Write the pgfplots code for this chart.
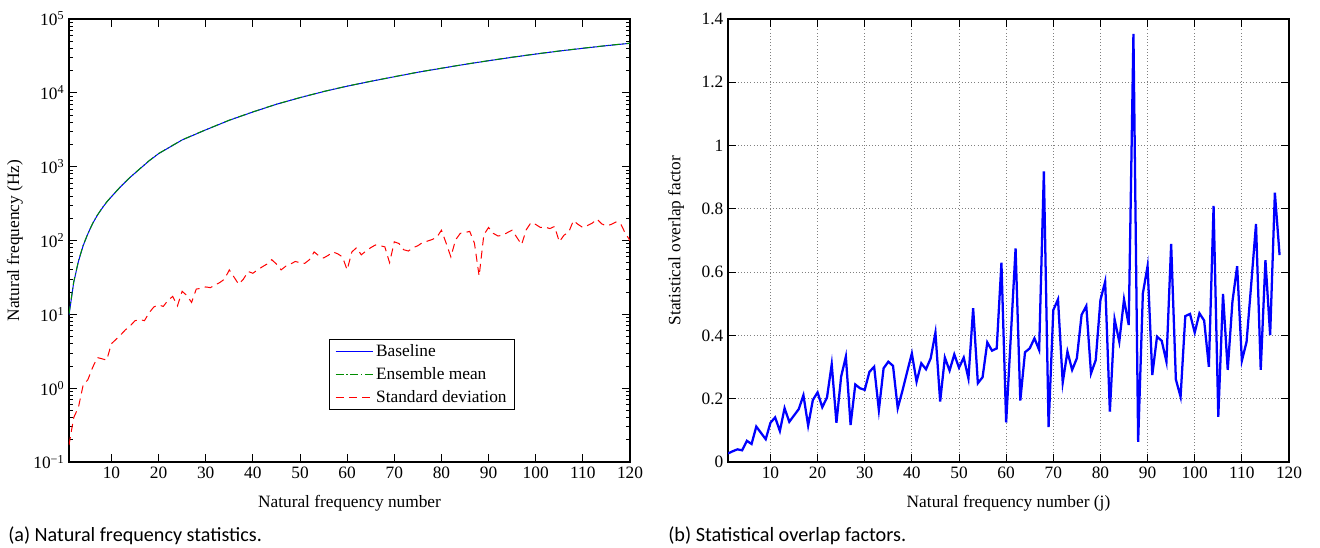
\documentclass[border=0pt]{standalone}
\usepackage{fontspec}
\setmainfont{Liberation Serif}
\newfontfamily\capfont{Carlito}
\usepackage{pgfplots}
\pgfplotsset{compat=1.18}

\begin{document}
\begin{tikzpicture}[x=1pt,y=1pt]
\useasboundingbox (-51.75,-63.75) rectangle (938.25,346.5);
\pgfplotsset{every axis/.append style={
  scale only axis, width=420.75pt, height=332.25pt,
  font=\fontsize{13}{15}\selectfont,
  /pgf/number format/assume math mode=true,
  axis line style={line width=0.8pt},
  every tick/.style={black, line width=0.6pt},
  major tick length=6pt, minor tick length=3pt,
  xmin=1, xmax=120, xtick={10,20,30,40,50,60,70,80,90,100,110,120},
  xlabel style={at={(axis description cs:0.5,-0.0926)}, anchor=center},
}}
% ---------------- left panel ----------------
\begin{axis}[at={(0pt,0pt)}, anchor=south west,
  ymode=log, ymin=0.1, ymax=1e5,
  ytick={0.1,1,10,100,1000,10000,100000},
  yticklabels={10\textsuperscript{−1},10\textsuperscript{0},10\textsuperscript{1},10\textsuperscript{2},10\textsuperscript{3},10\textsuperscript{4},10\textsuperscript{5}},
  minor ytick={0.2,0.3,0.4,0.5,0.6,0.7,0.8,0.9,2,3,4,5,6,7,8,9,20,30,40,50,60,70,80,90,200,300,400,500,600,700,800,900,2000,3000,4000,5000,6000,7000,8000,9000,20000,30000,40000,50000,60000,70000,80000,90000},
  xlabel={Natural frequency number},
  ylabel={Natural frequency (Hz)},
  ylabel style={at={(axis description cs:-0.0963,0.5)}, anchor=center},
  legend style={at={(0.795,0.117)}, anchor=south east, line width=0.6pt,
    fill=white, font=\fontsize{13}{15}\selectfont, inner xsep=4pt, inner ysep=2pt,
    row sep=2.6pt, cells={anchor=west}},
]
\addlegendimage{legend image code/.code={\draw[draw=blue, line width=0.8pt] (0pt,0pt) -- (28pt,0pt);}}
\addlegendentry{Baseline}
\addlegendimage{legend image code/.code={\draw[draw=green!55!black, line width=0.8pt, dash pattern=on 6pt off 2pt on 1pt off 2pt] (0pt,0pt) -- (28pt,0pt);}}
\addlegendentry{Ensemble mean}
\addlegendimage{legend image code/.code={\draw[draw=red, line width=0.8pt, dash pattern=on 6pt off 4pt] (0pt,0pt) -- (28pt,0pt);}}
\addlegendentry{Standard deviation}
\addplot[draw=blue, line width=0.75pt, forget plot] coordinates {
(1,9.8)(2,27)(3,52)(4,85)(5,123)(6,169)(7,219)(8,272)(9,331)(10,392)
(12,540)(14,720)(16,930)(18,1200)(20,1500)(25,2300)(30,3150)(35,4250)
(40,5500)(45,7000)(50,8600)(55,10400)(60,12300)(65,14300)(70,16500)
(75,19000)(80,21500)(85,24300)(90,27200)(95,30300)(100,33500)(105,36800)
(110,40100)(115,43500)(120,46900)};
\addplot[draw=green!55!black, line width=0.75pt, dash pattern=on 6pt off 2pt on 1pt off 2pt, forget plot] coordinates {
(1,10.1)(2,27.6)(3,52.8)(4,86)(5,124)(6,170)(7,220)(8,274)(9,333)(10,394)
(12,543)(14,724)(16,935)(18,1206)(20,1507)(25,2310)(30,3160)(35,4265)
(40,5520)(45,7020)(50,8630)(55,10430)(60,12340)(65,14340)(70,16550)
(75,19060)(80,21570)(85,24380)(90,27290)(95,30400)(100,33620)(105,36930)
(110,40240)(115,43650)(120,47060)};
\addplot[draw=red, line width=0.75pt, dash pattern=on 6pt off 4pt, forget plot] coordinates {
(1,0.17)(2,0.40)(3,0.55)(4,1.1)(5,1.3)(6,1.9)(7,2.6)(8,2.5)(9,2.4)(10,4.0)
(11,4.6)(12,5.3)(13,6.2)(14,7.0)(15,8.2)(16,8.5)(17,8.2)(18,10.5)(19,12.6)(20,13.4)
(21,12.8)(22,15.5)(23,17.5)(24,13.0)(25,20.5)(26,18.0)(27,14.5)(28,22.0)(29,22.5)(30,23.5)
(31,23.0)(32,25.0)(33,27.0)(34,30.0)(35,40.0)(36,32.0)(37,25.5)(38,30.0)(39,38.0)(40,36.0)
(41,40.0)(42,44.0)(43,48.0)(44,55.0)(45,48.0)(46,40.0)(47,45.0)(48,48.0)(49,52.0)(50,50.0)
(51,49.0)(52,55.0)(53,70.0)(54,62.0)(55,58.0)(56,63.0)(57,70.0)(58,66.0)(59,60.0)(60,40.0)
(61,70.0)(62,80.0)(63,64.0)(64,72.0)(65,80.0)(66,87.0)(67,85.0)(68,82.0)(69,50.0)(70,96.0)
(71,91.0)(72,75.0)(73,72.0)(74,80.0)(75,85.0)(76,94.0)(77,98.0)(78,103.0)(79,110.0)(80,138.0)
(81,92.0)(82,60.0)(83,102.0)(84,125.0)(85,128.0)(86,133.0)(87,92.0)(88,33.0)(89,120.0)(90,150.0)
(91,125.0)(92,115.0)(93,118.0)(94,128.0)(95,138.0)(96,110.0)(97,88.0)(98,140.0)(99,175.0)(100,165.0)
(101,150.0)(102,152.0)(103,145.0)(104,155.0)(105,96.0)(106,118.0)(107,130.0)(108,186.0)(109,165.0)(110,150.0)
(111,160.0)(112,172.0)(113,195.0)(114,168.0)(115,158.0)(116,165.0)(117,178.0)(118,170.0)(119,125.0)(120,100.0)};
\end{axis}
% ---------------- right panel ----------------
\begin{axis}[at={(494.25pt,0pt)}, anchor=south west,
  ymin=0, ymax=1.4, ytick={0,0.2,0.4,0.6,0.8,1,1.2,1.4},
  grid=major, grid style={dotted, gray, line width=0.6pt},
  xlabel={Natural frequency number (j)},
  ylabel={Statistical overlap factor},
  ylabel style={at={(axis description cs:-0.0927,0.5)}, anchor=center},
]
\addplot[draw=blue, line width=1.7pt] coordinates {
(1,0.027)(2,0.034)(3,0.040)(4,0.037)(5,0.067)(6,0.057)(7,0.112)(8,0.092)(9,0.072)(10,0.124)
(11,0.141)(12,0.098)(13,0.170)(14,0.127)(15,0.147)(16,0.167)(17,0.211)(18,0.115)(19,0.196)(20,0.220)
(21,0.173)(22,0.204)(23,0.309)(24,0.124)(25,0.270)(26,0.333)(27,0.117)(28,0.245)(29,0.233)(30,0.228)
(31,0.285)(32,0.301)(33,0.164)(34,0.296)(35,0.317)(36,0.304)(37,0.170)(38,0.225)(39,0.285)(40,0.343)
(41,0.254)(42,0.312)(43,0.293)(44,0.328)(45,0.409)(46,0.191)(47,0.330)(48,0.289)(49,0.340)(50,0.298)
(51,0.330)(52,0.264)(53,0.486)(54,0.249)(55,0.268)(56,0.378)(57,0.352)(58,0.359)(59,0.630)(60,0.125)
(61,0.400)(62,0.675)(63,0.194)(64,0.347)(65,0.359)(66,0.391)(67,0.354)(68,0.918)(69,0.110)(70,0.480)
(71,0.514)(72,0.251)(73,0.349)(74,0.291)(75,0.328)(76,0.465)(77,0.493)(78,0.280)(79,0.322)(80,0.512)
(81,0.570)(82,0.159)(83,0.451)(84,0.380)(85,0.514)(86,0.433)(87,1.353)(88,0.064)(89,0.533)(90,0.619)
(91,0.275)(92,0.396)(93,0.383)(94,0.317)(95,0.689)(96,0.261)(97,0.206)(98,0.461)(99,0.468)(100,0.409)
(101,0.470)(102,0.447)(103,0.301)(104,0.809)(105,0.143)(106,0.531)(107,0.291)(108,0.507)(109,0.619)(110,0.320)
(111,0.380)(112,0.565)(113,0.752)(114,0.291)(115,0.638)(116,0.401)(117,0.851)(118,0.654)};
\end{axis}
% ---------------- captions ----------------
\node[anchor=base west, font=\capfont\fontsize{15.1}{17}\selectfont, inner sep=0pt] at (-45.75,-59.25) {(a) Natural frequency statistics.};
\node[anchor=base west, font=\capfont\fontsize{15.2}{17}\selectfont, inner sep=0pt] at (449.25,-59.25) {(b) Statistical overlap factors.};
\end{tikzpicture}
\end{document}
